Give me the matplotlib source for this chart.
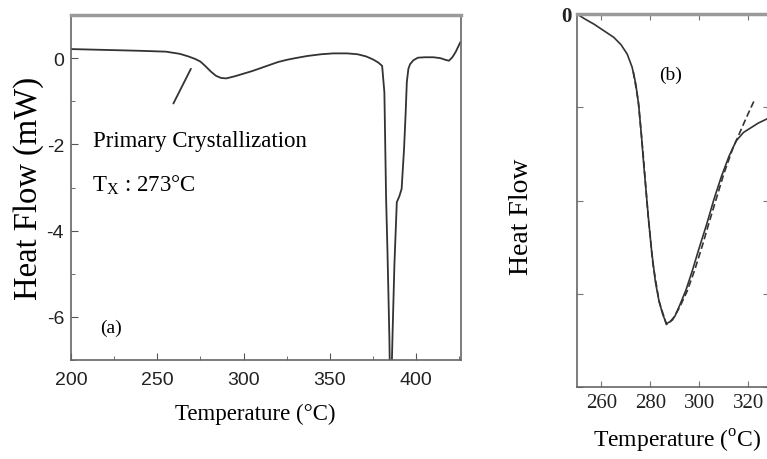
import matplotlib
matplotlib.use('Agg')
import matplotlib.pyplot as plt
from matplotlib.ticker import MultipleLocator

plt.rcParams['axes.unicode_minus'] = False

# DSC trace, panel (a)
temp_a = [200, 220, 240, 255, 263, 268, 272, 275, 278, 281, 284, 287, 290, 295,
          300, 305, 310, 315, 320, 325, 330, 337, 345, 352, 360, 366, 371, 375,
          378, 380.3, 381.6, 382.6, 383.4, 384.0, 384.5, 384.9, 385.6, 386.4,
          387.4, 388.8, 390.3, 391.6, 393.0, 393.9, 394.6, 395.5, 396.5, 398.4,
          401, 405, 410, 414, 417, 419, 421, 423, 425.5]
heat_a = [0.21, 0.19, 0.17, 0.15, 0.10, 0.04, -0.02, -0.08, -0.19, -0.31, -0.41,
          -0.46, -0.47, -0.42, -0.36, -0.30, -0.23, -0.16, -0.09, -0.04, 0.00,
          0.05, 0.09, 0.11, 0.11, 0.09, 0.04, -0.03, -0.10, -0.18, -0.79, -3.26,
          -4.5, -5.58, -6.5, -7.6, -7.6, -6.3, -4.8, -3.34, -3.2, -3.03, -2.1,
          -1.3, -0.56, -0.25, -0.14, -0.05, 0.01, 0.02, 0.02, 0.0, -0.04, -0.06,
          0.02, 0.15, 0.36]

# panel (b): measured peak and fitted curve
temp_b = [250, 253, 257, 261, 265, 268, 270.5, 272.5, 274, 275.2, 276.3, 277.2,
          278.2, 279.2, 280.5, 282, 283.5, 285, 286.5, 288, 290, 292, 294.5, 297,
          300, 303, 306, 309, 312, 315, 318, 321, 324, 328]
heat_b = [0.0, -0.05, -0.11, -0.18, -0.25, -0.33, -0.43, -0.57, -0.75, -0.98,
          -1.3, -1.6, -1.9, -2.2, -2.55, -2.87, -3.08, -3.22, -3.32, -3.3, -3.24,
          -3.12, -2.96, -2.76, -2.5, -2.25, -1.98, -1.74, -1.53, -1.36, -1.27,
          -1.22, -1.17, -1.12]
temp_fit = [273, 275, 277, 279, 281, 283.5, 286.5, 289, 292, 295, 298, 301, 304,
            307, 310, 313.5, 316, 319, 322.5]
heat_fit = [-0.62, -0.93, -1.5, -2.15, -2.68, -3.08, -3.33, -3.28, -3.14, -2.97,
            -2.75, -2.5, -2.23, -1.97, -1.71, -1.45, -1.30, -1.12, -0.92]

serif = 'Liberation Serif'
sans = 'Liberation Sans'
line_col = '#333333'

fig = plt.figure(figsize=(7.67, 4.6), dpi=100)


def style_spines(ax):
    for s in ['left', 'bottom', 'right']:
        ax.spines[s].set_color('#666666')
        ax.spines[s].set_linewidth(1.2)
    ax.spines['top'].set_color('#9a9a9a')
    ax.spines['top'].set_linewidth(2.5)


# ---- (a) ----
ax = fig.add_axes([71/767, 1 - 361/460, (461-71)/767, (361-16)/460])
ax.plot(temp_a, heat_a, color=line_col, lw=1.3)
ax.set_xlim(200, 426)
ax.set_ylim(-7, 1)
ax.xaxis.set_major_locator(MultipleLocator(50))
ax.xaxis.set_minor_locator(MultipleLocator(25))
ax.yaxis.set_major_locator(MultipleLocator(2))
ax.yaxis.set_minor_locator(MultipleLocator(1))
ax.tick_params(which='both', direction='in', color='#555555')
ax.tick_params(which='major', length=5)
ax.tick_params(which='minor', length=3)
ax.tick_params(axis='x', pad=8)
ax.tick_params(axis='y', pad=5)
for lab in ax.get_xticklabels() + ax.get_yticklabels():
    lab.set_fontfamily(sans)
    lab.set_fontsize(14)
    lab.set_color('#222222')
style_spines(ax)
ax.set_xlabel('Temperature (°C)', fontfamily=serif, fontsize=16.5, labelpad=10)
ax.xaxis.set_label_coords(0.472, -0.125)
ax.set_ylabel('Heat Flow (mW)', fontfamily=serif, fontsize=23.5, labelpad=2)

ax.annotate('', xy=(270.2, -0.19), xytext=(258.6, -1.11),
            arrowprops=dict(arrowstyle='-', color=line_col, lw=1.3))
ax.text(213, -1.9, 'Primary Crystallization', fontfamily=serif, fontsize=16.5,
        va='center', ha='left')
ax.text(212, -2.92, r'T$_\mathregular{X}$ : 273°C', fontfamily=serif,
        fontsize=16.5, va='center', ha='left')
ax.text(217, -6.25, '(a)', fontfamily=serif, fontsize=14, va='center')

# ---- (b) ----
bx = fig.add_axes([577/767, 1 - 388/460, (769-577)/767, (388-15)/460])
bx.plot(temp_b, heat_b, color=line_col, lw=1.2)
bx.plot(temp_fit, heat_fit, color=line_col, lw=1.2, ls=(0, (4, 2)))
bx.set_xlim(250, 328.4)
bx.set_ylim(-4, 0)
bx.set_xticks([260, 280, 300, 320])
bx.set_yticks([0, -1, -2, -3, -4])
bx.set_yticklabels(['0', '', '', '', ''])
bx.tick_params(direction='in', length=4, color='#777777', top=True, right=True,
               pad=4)
for lab in bx.get_xticklabels() + bx.get_yticklabels():
    lab.set_fontfamily(serif)
    lab.set_fontsize(15)
    lab.set_color('#222222')
bx.get_yticklabels()[0].set_fontweight('bold')
style_spines(bx)
bx.set_xlabel(r'Temperature ($^\mathregular{o}$C)', fontfamily=serif,
              fontsize=17, labelpad=10)
bx.xaxis.set_label_coords(0.52, -0.108)
bx.set_ylabel('Heat Flow', fontfamily=serif, fontsize=20)
bx.yaxis.set_label_coords(-0.224, 0.46)
bx.text(283.5, -0.65, '(b)', fontfamily=serif, fontsize=14, va='center')

fig.savefig('out.png', dpi=100)
